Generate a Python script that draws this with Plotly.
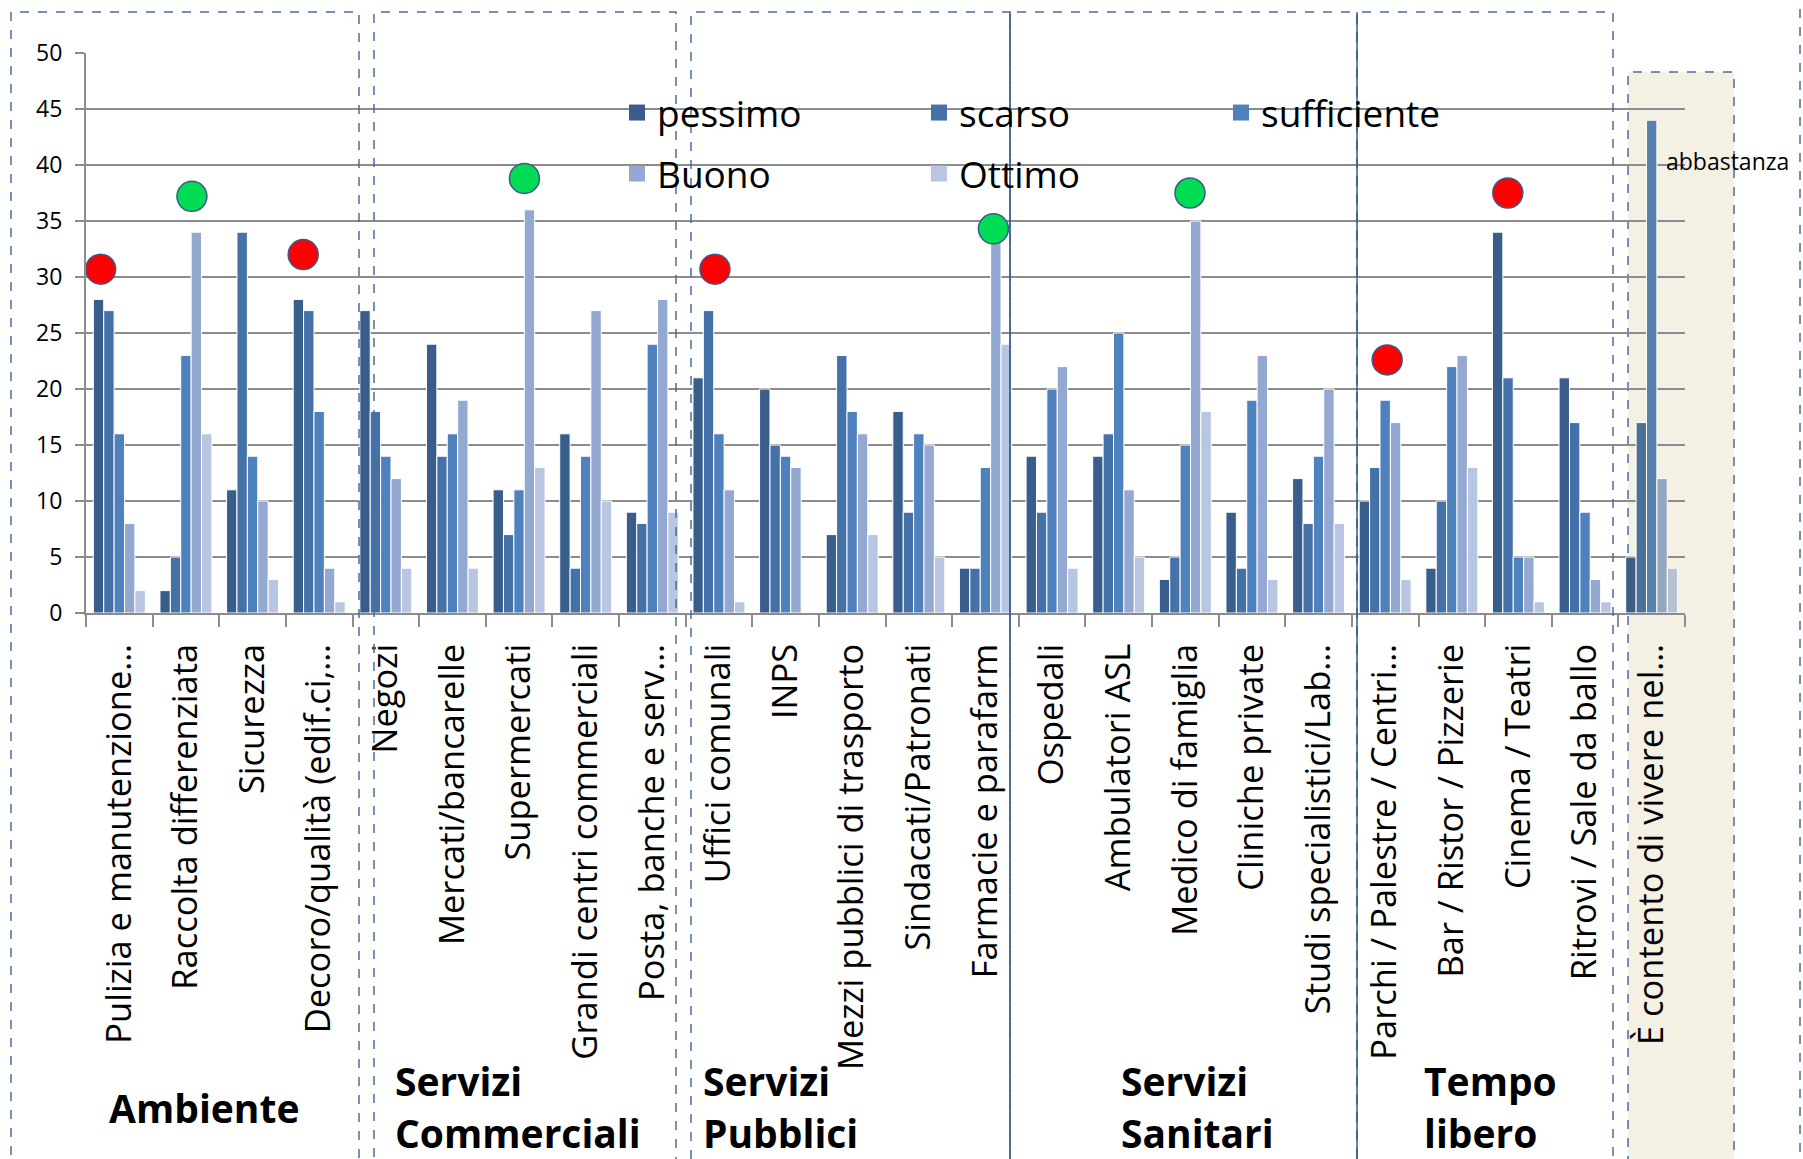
import plotly.graph_objects as go

# categories (x axis), in chart order
categories = [
    "Pulizia e manutenzione…", "Raccolta differenziata", "Sicurezza", "Decoro/qualità (edif.ci,…",
    "Negozi", "Mercati/bancarelle", "Supermercati", "Grandi centri commerciali", "Posta, banche e serv…",
    "Uffici comunali", "INPS", "Mezzi pubblici di trasporto", "Sindacati/Patronati", "Farmacie e parafarm",
    "Ospedali", "Ambulatori ASL", "Medico di famiglia", "Cliniche private", "Studi specialistici/Lab…",
    "Parchi / Palestre / Centri…", "Bar / Ristor / Pizzerie", "Cinema / Teatri", "Ritrovi / Sale da ballo",
    "È contento di vivere nel…",
]

pessimo     = [28, 2, 11, 28, 27, 24, 11, 16, 9, 21, 20, 7, 18, 4, 14, 14, 3, 9, 12, 10, 4, 34, 21, 5]
scarso      = [27, 5, 34, 27, 18, 14, 7, 4, 8, 27, 15, 23, 9, 4, 9, 16, 5, 4, 8, 13, 10, 21, 17, 17]
sufficiente = [16, 23, 14, 18, 14, 16, 11, 14, 24, 16, 14, 18, 16, 13, 20, 25, 15, 19, 14, 19, 22, 5, 9, 44]
buono       = [8, 34, 10, 4, 12, 19, 36, 27, 28, 11, 13, 16, 15, 34, 22, 11, 35, 23, 20, 17, 23, 5, 3, 12]
ottimo      = [2, 16, 3, 1, 4, 4, 13, 10, 9, 1, 0, 7, 5, 24, 4, 5, 18, 3, 8, 3, 13, 1, 1, 4]

series_names = ["pessimo", "scarso", "sufficiente", "Buono", "Ottimo"]

# highlight dots: category index, value, small offset inside the category
red_idx = [0, 3, 9, 19, 21]
red_val = [30.7, 32.0, 30.7, 22.6, 37.5]
red_dx = [-0.28, -0.24, -0.06, 0.03, -0.16]
green_idx = [1, 6, 13, 16]
green_val = [37.2, 38.8, 34.3, 37.5]
green_dx = [0.09, 0.08, 0.12, 0.07]

groups = [("Ambiente", None), ("Servizi", "Commerciali"), ("Servizi", "Pubblici"),
          ("Servizi", "Sanitari"), ("Tempo", "libero")]

colors = ["#3A5E8C", "#4471A8", "#4F81BD", "#94A9D1", "#B9C6E1"]
last_colors = ["#3F5E84", "#4C7099", "#5A80AC", "#94A6C0", "#B9C2D1"]

W, H = 1803, 1159
L, R, T, B = 86, 1685, 53, 613


def px_x(p):
    return (p - L) / (R - L)


def px_y(p):
    return (B - p) / (B - T)


FONT = "Open Sans"
fig = go.Figure()

all_vals = [pessimo, scarso, sufficiente, buono, ottimo]
n = len(categories)
xs = list(range(n))
for name, vals, c, lc in zip(series_names, all_vals, colors, last_colors):
    fig.add_trace(go.Bar(
        x=xs, y=vals, name=name, showlegend=False,
        marker=dict(color=[c] * (n - 1) + [lc], line=dict(color="white", width=1)),
    ))

# legend entries (two rows, like the original)
for i, (name, c) in enumerate(zip(series_names, colors)):
    fig.add_trace(go.Scatter(
        x=[None], y=[None], mode="markers", name=name,
        marker=dict(symbol="square", size=16, color=c),
        legend="legend" if i < 3 else "legend2",
    ))

for idx, val, dx, col in [(red_idx, red_val, red_dx, "#FF0000"), (green_idx, green_val, green_dx, "#00DD55")]:
    fig.add_trace(go.Scatter(
        x=[i + d for i, d in zip(idx, dx)], y=val, mode="markers", showlegend=False,
        marker=dict(size=30, color=col, line=dict(color="#3B5A8C", width=1.5)),
    ))

box_line = dict(color="#4A6C9E", width=1.5, dash="dash")
shapes = [
    # beige panel behind the last category
    dict(type="rect", xref="paper", yref="paper", x0=px_x(1628), x1=px_x(1734), y0=px_y(1170), y1=px_y(72),
         fillcolor="#F4F0E4", line=box_line, layer="below"),
]
for x0, x1, y0 in [(11, 359, 12), (374, 676, 12), (691, 1010, 12), (1010, 1357, 12), (1357, 1613, 12)]:
    shapes.append(dict(type="rect", xref="paper", yref="paper", x0=px_x(x0), x1=px_x(x1),
                       y0=px_y(1170), y1=px_y(y0), line=box_line, layer="above"))
for xv in [1010, 1357]:
    shapes.append(dict(type="line", xref="paper", yref="paper", x0=px_x(xv), x1=px_x(xv),
                       y0=px_y(1170), y1=px_y(12), line=dict(color="#3B5E8C", width=1.5)))
shapes.append(dict(type="line", xref="paper", yref="paper", x0=px_x(1800), x1=px_x(1800),
                   y0=px_y(1170), y1=px_y(0), line=box_line))

annotations = [dict(xref="paper", yref="paper", x=px_x(1664), y=px_y(161), xanchor="left", yanchor="middle",
                    text="abbastanza", showarrow=False, font=dict(family=FONT, size=23, color="black"))]
group_x = [107, 393, 701, 1119, 1422]
for (l1, l2), gx in zip(groups, group_x):
    lines = [(l1, 1107)] if l2 is None else [(l1, 1080), (l2, 1132)]
    for txt, gy in lines:
        annotations.append(dict(xref="paper", yref="paper", x=px_x(gx), y=px_y(gy), xanchor="left",
                                yanchor="middle", text="<b>%s</b>" % txt, showarrow=False,
                                font=dict(family=FONT, size=39, color="black")))

fig.update_layout(
    width=W, height=H,
    margin=dict(l=L, r=W - R, t=T, b=H - B, autoexpand=False),
    paper_bgcolor="white", plot_bgcolor="rgba(0,0,0,0)",
    barmode="group", bargap=0.22, bargroupgap=0,
    font=dict(family=FONT, color="black"),
    legend=dict(orientation="h", x=px_x(617), y=px_y(113), xanchor="left", yanchor="middle",
                bgcolor="rgba(0,0,0,0)", font=dict(size=37), entrywidth=257),
    legend2=dict(orientation="h", x=px_x(617), y=px_y(174), xanchor="left", yanchor="middle",
                 bgcolor="rgba(0,0,0,0)", font=dict(size=37), entrywidth=257),
    shapes=shapes, annotations=annotations,
    xaxis=dict(range=[-0.5, n - 0.5], tickvals=xs, ticktext=categories, tickangle=-90,
               tickfont=dict(size=34.5), ticks="", ticklabelstandoff=15, showgrid=False,
               showline=True, linecolor="#8C8C8C", linewidth=2, zeroline=False, automargin=False,
               minor=dict(tick0=0.5, dtick=1, ticks="outside", ticklen=12, tickcolor="#8C8C8C",
                          tickwidth=2, showgrid=False)),
    yaxis=dict(range=[0, 50], dtick=5, tickfont=dict(size=23), showgrid=True, gridcolor="#8C8C8C",
               gridwidth=2, showline=True, linecolor="#8C8C8C", linewidth=2, ticks="outside",
               ticklen=9, tickcolor="#8C8C8C", tickwidth=2, ticklabelstandoff=8,
               zeroline=False, automargin=False),
)

# the page body has a default 8px margin; drop it so the figure fills the window exactly
fig.write_html("out.html", config={"displayModeBar": False},
               post_script="document.body.style.margin='0';")
